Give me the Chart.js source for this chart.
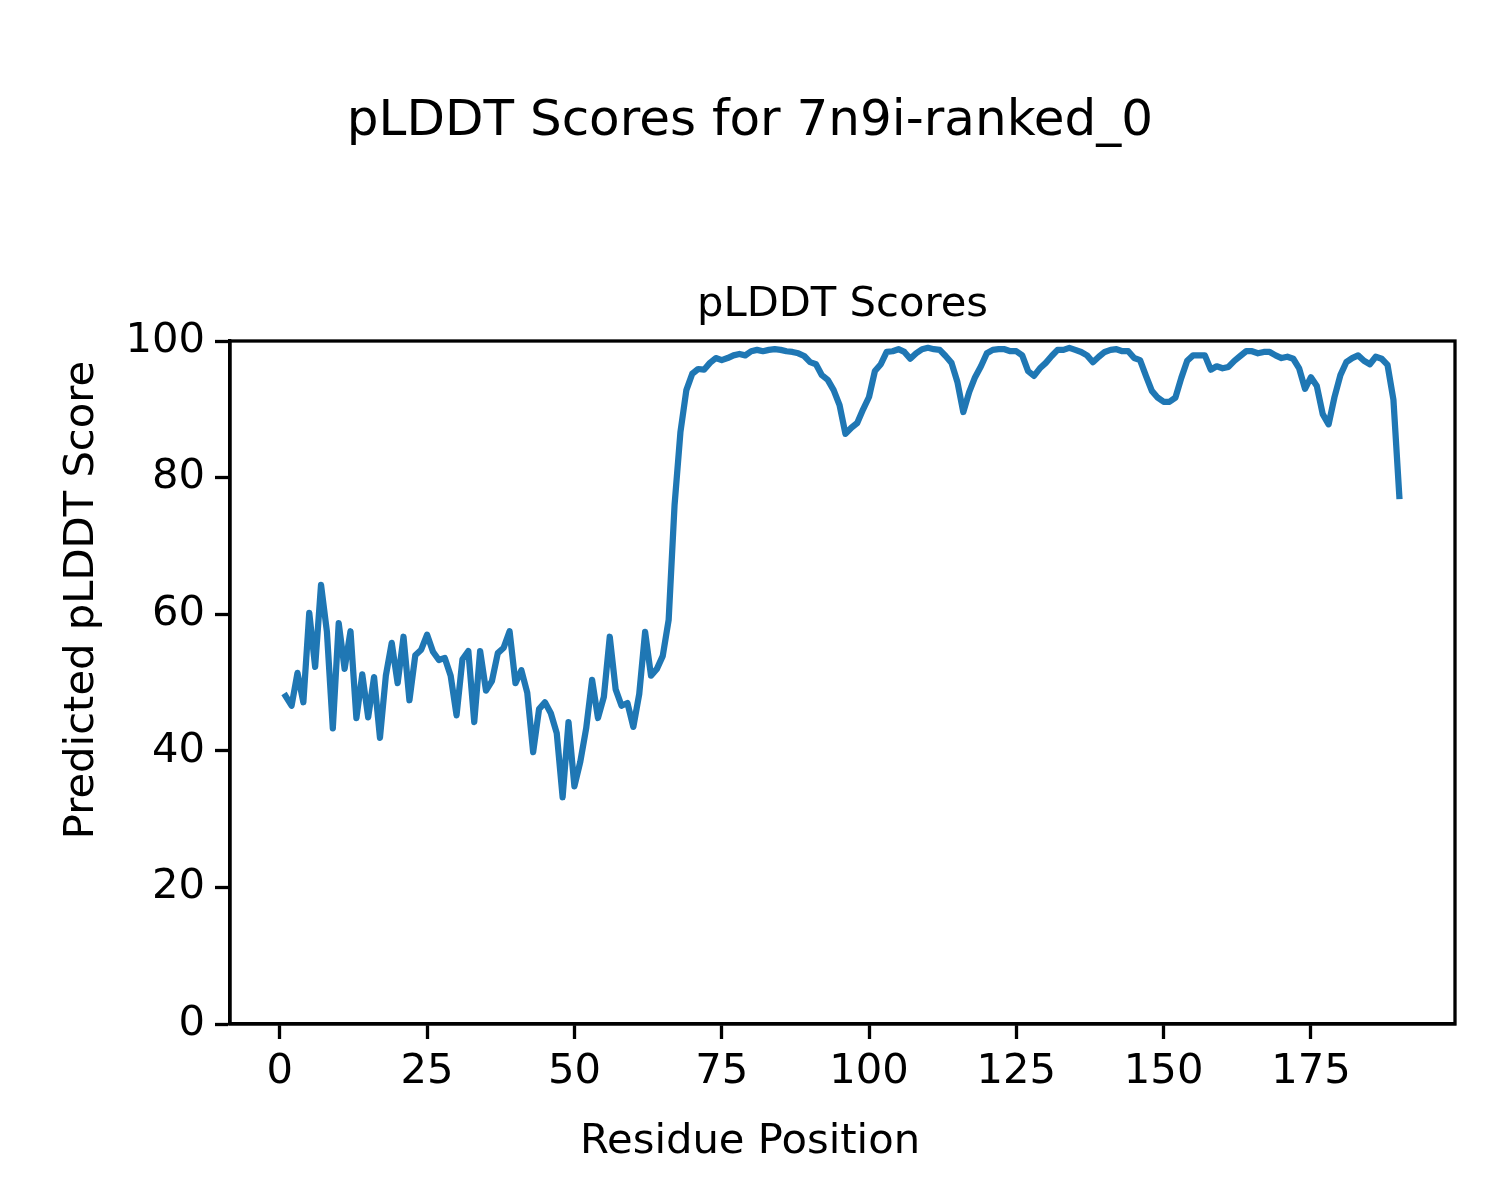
<!DOCTYPE html>
<html>
<head>
<meta charset="utf-8">
<title>pLDDT Scores for 7n9i-ranked_0</title>
<script src="https://cdn.jsdelivr.net/npm/chart.js@4.4.1/dist/chart.umd.min.js"></script>
<style>
  body { margin: 0; background: #fff; }
  canvas { display: block; }
</style>
</head>
<body>
<canvas id="plddtChart" width="1500" height="1200"></canvas>
<script>
// pLDDT per residue
const scores = [
  48.0, 46.6, 51.4, 47.1, 60.2, 52.3, 64.3, 57.4, 43.3, 58.7,
  52.0, 57.5, 44.8, 51.2, 44.9, 50.8, 41.9, 51.0, 55.8, 49.9,
  56.7, 47.4, 54.0, 54.8, 57.0, 54.5, 53.3, 53.6, 51.0, 45.2,
  53.4, 54.6, 44.2, 54.6, 48.8, 50.2, 54.3, 55.1, 57.5, 49.9,
  51.8, 48.5, 39.8, 46.1, 47.1, 45.5, 42.6, 33.2, 44.2, 34.8,
  38.4, 43.3, 50.4, 44.8, 47.9, 56.7, 49.0, 46.6, 47.0, 43.5,
  48.3, 57.4, 51.0, 52.0, 53.9, 59.2, 76.0, 86.7, 92.8, 95.2,
  95.9, 95.8, 96.8, 97.5, 97.2, 97.5, 97.9, 98.1, 97.9, 98.5,
  98.7, 98.5, 98.7, 98.8, 98.7, 98.5, 98.4, 98.2, 97.8, 96.9,
  96.6, 95.0, 94.3, 92.8, 90.6, 86.4, 87.3, 88.0, 90.0, 91.8,
  95.6, 96.6, 98.4, 98.5, 98.8, 98.4, 97.4, 98.2, 98.8, 99.0,
  98.8, 98.7, 97.8, 96.8, 94.0, 89.6, 92.5, 94.7, 96.3, 98.2,
  98.7, 98.8, 98.8, 98.5, 98.5, 97.9, 95.6, 94.9, 96.0, 96.8,
  97.8, 98.7, 98.7, 99.0, 98.7, 98.4, 97.9, 96.9, 97.7, 98.4,
  98.7, 98.8, 98.5, 98.5, 97.5, 97.2, 94.9, 92.7, 91.7, 91.1,
  91.1, 91.7, 94.6, 97.1, 97.9, 97.9, 97.9, 95.8, 96.3, 96.0,
  96.2, 97.1, 97.8, 98.5, 98.5, 98.2, 98.4, 98.4, 97.9, 97.5,
  97.7, 97.4, 96.0, 93.0, 94.7, 93.4, 89.3, 87.8, 91.8, 95.0,
  96.9, 97.5, 97.9, 97.1, 96.6, 97.7, 97.4, 96.5, 91.4, 77.3
];
const residues = scores.map((_, i) => i + 1);
const xTicks = [0, 25, 50, 75, 100, 125, 150, 175];
const yTicks = [0, 20, 40, 60, 80, 100];

const FONT = "'DejaVu Sans', sans-serif";

// figure-level texts + top/right spines
const figureDecor = {
  id: 'figureDecor',
  afterDraw(chart) {
    const ctx = chart.ctx;
    const a = chart.chartArea;
    ctx.save();
    ctx.strokeStyle = '#000';
    ctx.lineWidth = 3.3;
    ctx.strokeRect(a.left, a.top, a.right - a.left, a.bottom - a.top);

    ctx.fillStyle = '#000';
    ctx.textAlign = 'center';
    ctx.textBaseline = 'alphabetic';
    ctx.font = '50px ' + FONT;
    ctx.fillText('pLDDT Scores for 7n9i-ranked_0', 750, 135);

    ctx.font = '41.7px ' + FONT;
    ctx.fillText('pLDDT Scores', (a.left + a.right) / 2, 316);
    ctx.fillText('Residue Position', 750, 1153);

    ctx.translate(93, 600);
    ctx.rotate(-Math.PI / 2);
    ctx.fillText('Predicted pLDDT Score', 0, 0);
    ctx.restore();
  }
};

new Chart(document.getElementById('plddtChart'), {
  type: 'line',
  data: {
    datasets: [{
      label: 'pLDDT',
      data: residues.map((r, i) => ({ x: r, y: scores[i] })),
      borderColor: '#1f77b4',
      borderWidth: 6.25,
      borderJoinStyle: 'round',
      borderCapStyle: 'square',
      pointRadius: 0,
      tension: 0,
      fill: false
    }]
  },
  options: {
    responsive: false,
    animation: false,
    layout: { padding: { top: 341, right: 45, left: 0, bottom: 0 } },
    plugins: {
      legend: { display: false },
      tooltip: { enabled: false },
      title: { display: false }
    },
    scales: {
      x: {
        type: 'linear',
        min: -8.45,
        max: 199.45,
        afterBuildTicks: s => { s.ticks = xTicks.map(v => ({ value: v })); },
        afterFit: s => { s.height = 176; },
        grid: { drawOnChartArea: false, drawTicks: true, tickLength: 15, tickWidth: 3.3, tickColor: '#000' },
        border: { display: true, color: '#000', width: 3.3 },
        ticks: { color: '#000', font: { family: FONT, size: 41.7 }, padding: 8, maxRotation: 0, callback: v => String(v) }
      },
      y: {
        min: 0,
        max: 100,
        afterBuildTicks: s => { s.ticks = yTicks.map(v => ({ value: v })); },
        afterFit: s => { s.width = 230; },
        grid: { drawOnChartArea: false, drawTicks: true, tickLength: 15, tickWidth: 3.3, tickColor: '#000' },
        border: { display: true, color: '#000', width: 3.3 },
        ticks: { color: '#000', font: { family: FONT, size: 41.7 }, padding: 10, callback: v => String(v) }
      }
    }
  },
  plugins: [figureDecor]
});
</script>
</body>
</html>
